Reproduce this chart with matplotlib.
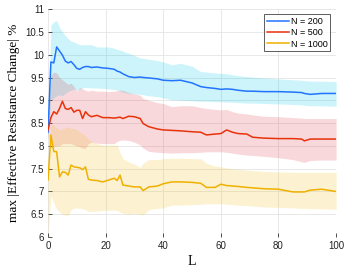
import matplotlib
matplotlib.use('Agg')
import matplotlib.pyplot as plt

# window length L
L = [0, 1, 2, 3, 4, 5, 6, 7, 8, 9, 10, 11, 12, 13, 14, 15, 17, 19, 21, 23,
     24, 25, 26, 28, 30, 32, 33, 35, 38, 40, 43, 46, 50, 53, 55, 58, 60, 62,
     64, 66, 69, 71, 75, 80, 85, 88, 89, 91, 95, 100]

# N = 200
n200_mean = [8.30, 9.84, 9.82, 10.17, 10.08, 9.99, 9.86, 9.82, 9.85, 9.78, 9.70,
             9.68, 9.72, 9.74, 9.74, 9.72, 9.73, 9.71, 9.70, 9.68, 9.64, 9.62,
             9.58, 9.52, 9.50, 9.51, 9.50, 9.49, 9.47, 9.44, 9.43, 9.44, 9.38,
             9.30, 9.28, 9.26, 9.24, 9.25, 9.24, 9.22, 9.20, 9.20, 9.19, 9.19,
             9.18, 9.17, 9.15, 9.13, 9.15, 9.15]
n200_hi = [8.45, 10.65, 10.72, 10.75, 10.60, 10.50, 10.42, 10.35, 10.30, 10.28,
           10.25, 10.22, 10.22, 10.22, 10.22, 10.22, 10.17, 10.17, 10.17, 10.14,
           10.12, 10.10, 10.08, 10.03, 9.98, 9.93, 9.92, 9.90, 9.87, 9.84, 9.78,
           9.81, 9.75, 9.63, 9.62, 9.60, 9.59, 9.58, 9.56, 9.54, 9.52, 9.51,
           9.49, 9.47, 9.45, 9.44, 9.43, 9.42, 9.42, 9.41]
n200_lo = [8.15, 9.00, 9.05, 9.10, 9.12, 9.10, 9.15, 9.20, 9.22, 9.25, 9.22,
           9.25, 9.27, 9.28, 9.28, 9.27, 9.27, 9.26, 9.25, 9.24, 9.22, 9.20,
           9.18, 9.15, 9.14, 9.13, 9.12, 9.10, 9.08, 9.05, 9.01, 9.00, 8.99,
           8.98, 8.98, 8.97, 8.97, 8.96, 8.96, 8.95, 8.94, 8.94, 8.93, 8.92,
           8.91, 8.90, 8.89, 8.88, 8.88, 8.87]

# N = 500
n500_mean = [8.35, 8.62, 8.75, 8.70, 8.82, 8.98, 8.82, 8.80, 8.84, 8.74, 8.78,
             8.78, 8.60, 8.75, 8.68, 8.64, 8.67, 8.62, 8.62, 8.61, 8.62, 8.63,
             8.60, 8.65, 8.64, 8.60, 8.49, 8.42, 8.37, 8.35, 8.34, 8.33, 8.31,
             8.30, 8.24, 8.26, 8.27, 8.35, 8.30, 8.27, 8.26, 8.19, 8.17, 8.16,
             8.16, 8.15, 8.11, 8.15, 8.15, 8.15]
n500_hi = [8.45, 9.55, 9.62, 9.60, 9.50, 9.45, 9.40, 9.35, 9.38, 9.30, 9.20,
           9.28, 9.25, 9.22, 9.20, 9.22, 9.20, 9.20, 9.19, 9.20, 9.21, 9.22,
           9.22, 9.17, 9.14, 9.11, 9.04, 9.00, 8.95, 8.93, 8.86, 8.88, 8.88,
           8.84, 8.82, 8.80, 8.79, 8.80, 8.75, 8.72, 8.70, 8.68, 8.65, 8.64,
           8.62, 8.61, 8.60, 8.60, 8.60, 8.60]
n500_lo = [8.20, 7.95, 7.98, 8.00, 8.00, 8.05, 8.05, 8.05, 8.05, 8.02, 8.00,
           7.98, 7.95, 7.95, 8.05, 8.08, 8.06, 8.05, 8.05, 8.05, 8.10, 8.12,
           8.13, 8.12, 8.08, 8.02, 7.95, 7.88, 7.86, 7.85, 7.84, 7.85, 7.85,
           7.86, 7.87, 7.87, 7.87, 7.86, 7.84, 7.82, 7.80, 7.79, 7.77, 7.74,
           7.70, 7.65, 7.64, 7.68, 7.69, 7.69]

# N = 1000
n1000_mean = [7.25, 8.24, 7.88, 7.87, 7.32, 7.43, 7.42, 7.36, 7.58, 7.54, 7.53,
              7.52, 7.48, 7.54, 7.27, 7.25, 7.24, 7.21, 7.25, 7.29, 7.24, 7.36,
              7.14, 7.12, 7.10, 7.10, 7.02, 7.10, 7.12, 7.17, 7.21, 7.21, 7.20,
              7.18, 7.09, 7.09, 7.16, 7.13, 7.12, 7.11, 7.09, 7.08, 7.06, 7.05,
              6.99, 6.99, 6.99, 7.03, 7.05, 7.00]
n1000_hi = [7.30, 8.50, 8.45, 8.40, 8.35, 8.38, 8.40, 8.42, 8.38, 8.38, 8.36,
            8.30, 8.27, 8.22, 8.15, 8.10, 8.05, 8.02, 8.02, 8.02, 8.02, 7.85,
            7.72, 7.65, 7.60, 7.53, 7.62, 7.70, 7.70, 7.72, 7.73, 7.73, 7.72,
            7.72, 7.62, 7.56, 7.54, 7.52, 7.50, 7.49, 7.47, 7.46, 7.44, 7.43,
            7.42, 7.42, 7.42, 7.42, 7.42, 7.42]
n1000_lo = [6.00, 6.90, 6.75, 6.60, 6.55, 6.50, 6.48, 6.47, 6.60, 6.63, 6.64,
            6.63, 6.62, 6.60, 6.56, 6.56, 6.57, 6.58, 6.59, 6.59, 6.58, 6.55,
            6.52, 6.50, 6.52, 6.50, 6.48, 6.60, 6.63, 6.64, 6.70, 6.70, 6.71,
            6.72, 6.73, 6.73, 6.73, 6.72, 6.71, 6.70, 6.69, 6.68, 6.66, 6.65,
            6.64, 6.63, 6.63, 6.62, 6.62, 6.61]

series = [
    ('N = 200', n200_mean, n200_lo, n200_hi, '#2274ff', (0.0, 0.80, 0.90)),
    ('N = 500', n500_mean, n500_lo, n500_hi, '#e8320a', (0.88, 0.25, 0.30)),
    ('N = 1000', n1000_mean, n1000_lo, n1000_hi, '#f0b000', (0.94, 0.76, 0.12)),
]

fig = plt.figure(figsize=(3.57, 2.76), dpi=100)
ax = fig.add_axes([0.1345, 0.141, 0.807, 0.826])

# bands first, then lines on top
for name, mean, lo, hi, lc, fc in series:
    ax.fill_between(L, lo, hi, color=fc, alpha=0.2, linewidth=0, zorder=1)
for name, mean, lo, hi, lc, fc in series:
    ax.plot(L, mean, color=lc, lw=1.1, label=name, zorder=3)

ax.set_xlim(0, 100)
ax.set_ylim(6, 11)
ax.set_xticks([0, 20, 40, 60, 80, 100])
ax.set_yticks([6, 6.5, 7, 7.5, 8, 8.5, 9, 9.5, 10, 10.5, 11])
ax.set_yticklabels(['6', '6.5', '7', '7.5', '8', '8.5', '9', '9.5', '10', '10.5', '11'])
ax.grid(True, color='#e4e4e4', lw=0.6, zorder=0)
ax.set_axisbelow(True)
for s in ax.spines.values():
    s.set_visible(False)
ax.tick_params(direction='in', length=3, width=0.6, color='#333333',
               labelsize=7, pad=3)
for t in ax.get_xticklabels() + ax.get_yticklabels():
    t.set_fontfamily('Liberation Sans')
    t.set_color('#222222')

ax.set_xlabel('L', family='Liberation Serif', fontsize=10, labelpad=3)
ax.set_ylabel('max |Effective Resistance Change| %', family='Liberation Serif',
              fontsize=9.5, labelpad=4)

leg = ax.legend(loc='upper right', bbox_to_anchor=(0.985, 0.985),
                prop={'family': 'Liberation Sans', 'size': 6.5},
                frameon=True, fancybox=False, handlelength=2.4,
                handletextpad=0.2, borderpad=0.3, labelspacing=0.25,
                borderaxespad=0.2)
leg.get_frame().set_edgecolor('#333333')
leg.get_frame().set_linewidth(0.7)

fig.savefig('out.png', dpi=100)
